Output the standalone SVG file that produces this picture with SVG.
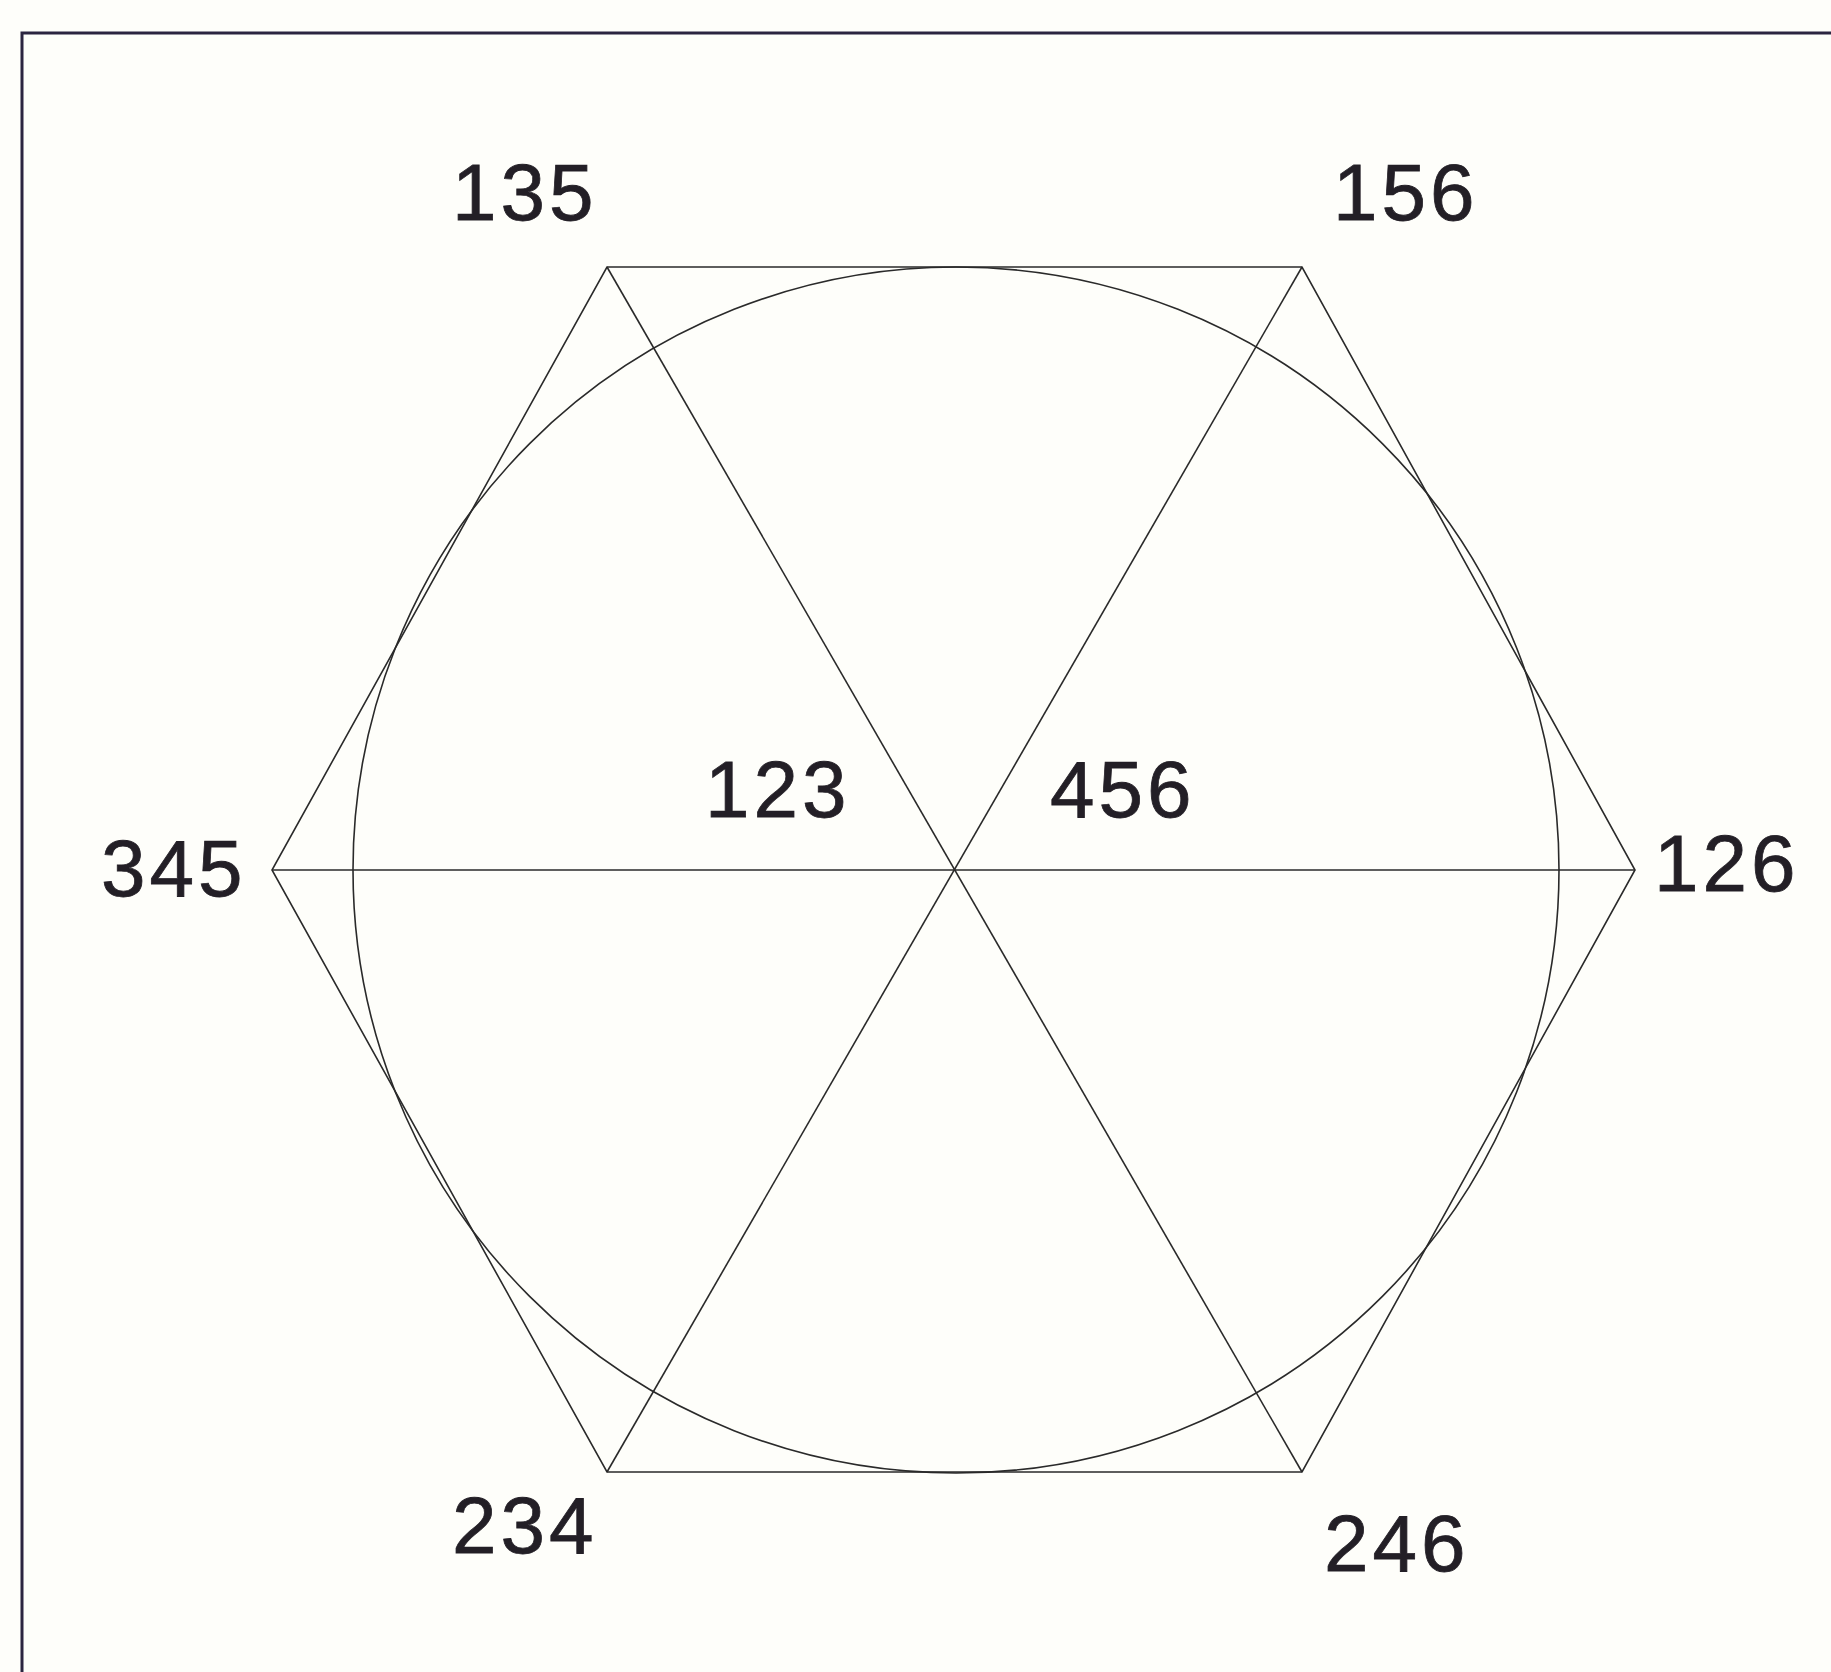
<svg xmlns="http://www.w3.org/2000/svg" width="1831" height="1672" viewBox="0 0 1831 1672">
<style>
.ln{stroke:#2a2a2a;stroke-width:1.6;fill:none}
.lb{font-family:"Liberation Sans",Arial,sans-serif;font-size:80px;letter-spacing:4px;fill:#231f26;stroke:#231f26;stroke-width:0.8}
</style>
<rect x="0" y="0" width="1831" height="1672" fill="#fefefa"/>
<path d="M22 1672 V33 H1831" fill="none" stroke="#2b2540" stroke-width="3"/>
<g id="connectors">
<circle class="ln" cx="956" cy="870" r="603"/>
<polygon class="ln" points="607,267 1302,267 1635,870 1302,1472 607,1472 272,870"/>
<line class="ln" x1="272" y1="870" x2="1635" y2="870"/>
<line class="ln" x1="607" y1="267" x2="1302" y2="1472"/>
<line class="ln" x1="1302" y1="267" x2="607" y2="1472"/>
</g>
<g id="n135"><text class="lb" x="452" y="220">135</text></g>
<g id="n156"><text class="lb" x="1333" y="220">156</text></g>
<g id="n345"><text class="lb" x="101" y="896">345</text></g>
<g id="n126"><text class="lb" x="1654" y="891">126</text></g>
<g id="n123"><text class="lb" x="705" y="817">123</text></g>
<g id="n456"><text class="lb" x="1050" y="817">456</text></g>
<g id="n234"><text class="lb" x="452" y="1553">234</text></g>
<g id="n246"><text class="lb" x="1324" y="1571">246</text></g>
</svg>
